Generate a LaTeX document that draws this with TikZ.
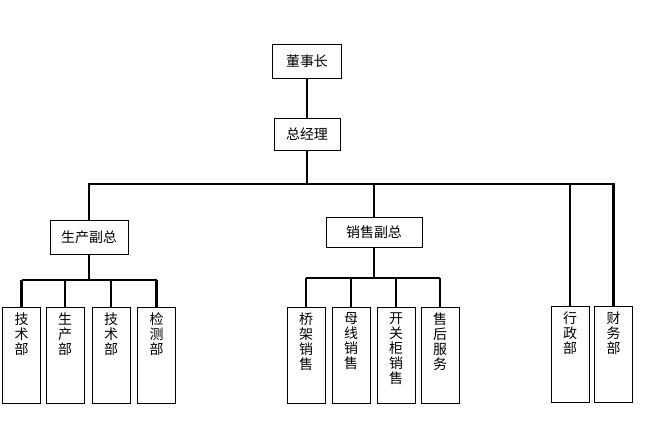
\documentclass[tikz,border=0pt]{standalone}
\usepackage{fontspec}
\setmainfont{Noto Sans CJK SC}
\begin{document}
\begin{tikzpicture}[x=1bp,y=-1bp,
  box/.style={draw,line width=0.8bp,inner sep=0pt,font=\fontsize{14}{15}\selectfont},
  tall/.style={box,minimum width=38bp,minimum height=96bp,
    label={[anchor=north,align=center,inner sep=0pt,yshift=-6bp,font=\fontsize{14}{15}\selectfont]north:#1}},
  conn/.style={line width=2.2bp}]
\useasboundingbox (0,0) rectangle (652,443);
\node[box,minimum width=69bp,minimum height=34bp] (dsz) at (307,61) {董事长};
\node[box,minimum width=66bp,minimum height=32bp] (zjl) at (307,134) {总经理};
\node[box,minimum width=78bp,minimum height=34bp] (scfz) at (89,237) {生产副总};
\node[box,minimum width=96bp,minimum height=30bp] (xsfz) at (374,232) {销售副总};
\node[tall={技\\术\\部}] (js1) at (21.5,355) {};
\node[tall={生\\产\\部}] (sc) at (65,355) {};
\node[tall={技\\术\\部}] (js2) at (111,355) {};
\node[tall={检\\测\\部}] (jc) at (156.5,355) {};
\node[tall={桥\\架\\销\\售}] (qj) at (306,355) {};
\node[tall={母\\线\\销\\售}] (mx) at (351,355) {};
\node[tall={开\\关\\柜\\销\\售}] (kgg) at (396,355) {};
\node[tall={售\\后\\服\\务}] (sh) at (440,355) {};
\node[tall={行\\政\\部}] (xz) at (570,354) {};
\node[tall={财\\务\\部}] (cw) at (613.5,354) {};
\coordinate (bus) at (0,184);
\coordinate (busa) at (0,280);
\coordinate (busb) at (0,278);
\draw[conn] (dsz.south) -- (zjl.north);
\draw[conn] (zjl.south) -- (zjl.south |- bus);
\draw[conn] (scfz.north) |- (cw.north |- bus) -- (cw.north);
\foreach \n in {xsfz,xz} \draw[conn] (\n.north) -- (\n.north |- bus);
\draw[conn] (scfz.south) -- (scfz.south |- busa);
\draw[conn] (js1.north |- busa) -- (jc.north |- busa);
\foreach \n in {js1,sc,js2,jc} \draw[conn] (\n.north) -- (\n.north |- busa);
\draw[conn] (xsfz.south) -- (xsfz.south |- busb);
\draw[conn] (qj.north |- busb) -- (sh.north |- busb);
\foreach \n in {qj,mx,kgg,sh} \draw[conn] (\n.north) -- (\n.north |- busb);
\end{tikzpicture}
\end{document}
